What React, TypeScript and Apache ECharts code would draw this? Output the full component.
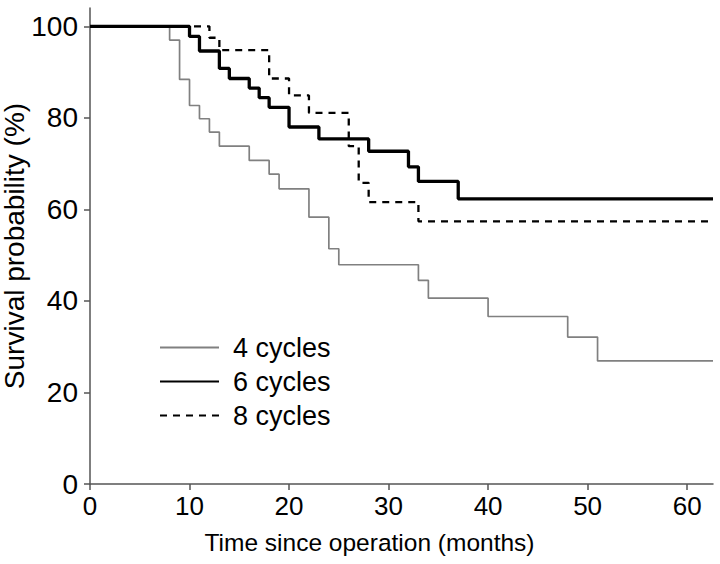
import React, { useEffect, useRef } from "react";
import * as echarts from "echarts";

// Kaplan–Meier curves: event times (months) and survival (%) after each step
const t4 = [0, 8, 9, 10, 11, 12, 13, 16, 18, 19, 22, 24, 25, 33, 34, 40, 48, 51, 62.6];
const s4 = [100, 97.0, 88.4, 82.7, 79.8, 76.9, 73.8, 70.7, 67.7, 64.5, 58.3, 51.4, 47.9, 44.5, 40.6, 36.6, 32.1, 26.9, 26.9];

const t6 = [0, 10, 11, 13, 14, 16, 17, 18, 20, 23, 28, 32, 33, 37, 62.6];
const s6 = [100, 97.8, 94.6, 90.8, 88.6, 86.5, 84.4, 82.3, 78.0, 75.4, 72.7, 69.3, 66.1, 62.3, 62.3];

const t8 = [0, 12, 13, 18, 20, 22, 26, 27, 28, 33, 62.6];
const s8 = [100, 97.5, 94.8, 88.6, 84.9, 81.1, 73.8, 65.8, 61.6, 57.4, 57.4];

const seriesNames = ["4 cycles", "6 cycles", "8 cycles"];
const xTicks = [0, 10, 20, 30, 40, 50, 60];
const yTicks = [0, 20, 40, 60, 80, 100];

const FONT = "Liberation Sans, Arial, Helvetica, sans-serif";

const pairs = (t: number[], s: number[]) => t.map((v, i) => [v, s[i]]);

export default function App() {
  const ref = useRef<HTMLDivElement>(null);
  useEffect(() => {
    if (!ref.current) return;
    const chart = echarts.init(ref.current, null, { renderer: "svg" });
    const axisColor = "#555555";
    chart.setOption({
      animation: false,
      backgroundColor: "#ffffff",
      grid: { left: 90, right: 7, top: 8, bottom: 80, containLabel: false, outerBoundsMode: "none" },
      legend: {
        orient: "vertical",
        left: 154,
        top: 329,
        itemWidth: 59,
        itemHeight: 14,
        itemGap: 7,
        itemStyle: { color: "rgba(0,0,0,0)", borderColor: "rgba(0,0,0,0)", borderWidth: 0, opacity: 0 },
        textStyle: { fontFamily: FONT, fontSize: 27, color: "#000", padding: [0, 0, 0, 9] },
        data: seriesNames,
      },
      xAxis: {
        type: "value",
        min: 0,
        max: 62.6,
        interval: 10,
        name: "Time since operation (months)",
        nameLocation: "middle",
        nameGap: 46,
        nameMoveOverlap: false,
        nameTextStyle: { fontFamily: FONT, fontSize: 24.5, color: "#000", padding: [0, 64, 0, 0] },
        axisLine: { show: true, lineStyle: { color: axisColor, width: 1.5 } },
        axisTick: { show: true, length: 6, lineStyle: { color: axisColor, width: 1.5 }, customValues: xTicks },
        axisLabel: { fontFamily: FONT, fontSize: 26, color: "#000", margin: 9, customValues: xTicks },
        splitLine: { show: false },
      },
      yAxis: {
        type: "value",
        min: 0,
        max: 104,
        interval: 20,
        name: "Survival probability (%)",
        nameLocation: "middle",
        nameGap: 62,
        nameMoveOverlap: false,
        nameTextStyle: { fontFamily: FONT, fontSize: 28, color: "#000" },
        axisLine: { show: true, lineStyle: { color: axisColor, width: 1.5 } },
        axisTick: { show: true, length: 6, lineStyle: { color: axisColor, width: 1.5 }, customValues: yTicks },
        axisLabel: { fontFamily: FONT, fontSize: 28, color: "#000", margin: 12, customValues: yTicks },
        splitLine: { show: false },
      },
      series: [
        {
          name: seriesNames[0],
          type: "line",
          step: "end",
          symbol: "none",
          data: pairs(t4, s4),
          lineStyle: { color: "#808080", width: 1.7 },
          itemStyle: { color: "#808080" },
          z: 2,
        },
        {
          name: seriesNames[1],
          type: "line",
          step: "end",
          symbol: "none",
          data: pairs(t6, s6),
          lineStyle: { color: "#000000", width: 3.3 },
          itemStyle: { color: "#000000" },
          z: 3,
        },
        {
          name: seriesNames[2],
          type: "line",
          step: "end",
          symbol: "none",
          data: pairs(t8, s8),
          lineStyle: { color: "#000000", width: 2.3, type: [7, 6] },
          itemStyle: { color: "#000000" },
          z: 4,
        },
      ],
    });
    return () => chart.dispose();
  }, []);
  return <div ref={ref} style={{ width: 720, height: 564, position: "absolute", left: 0, top: 0 }} />;
}
